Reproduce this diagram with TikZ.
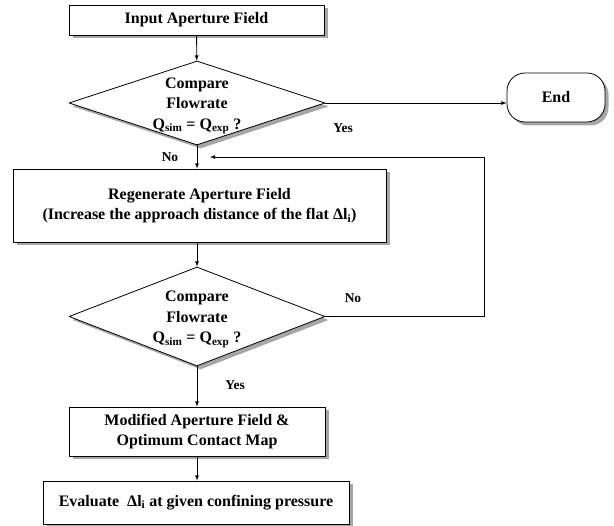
\documentclass[tikz,border=0pt]{standalone}
\usepackage{fontspec}
\setmainfont{Liberation Serif}
\usetikzlibrary{shapes.geometric,shadows}

\begin{document}
\begin{tikzpicture}[x=1pt,y=-1pt,line cap=round,line join=round,
		font=\fontsize{16}{20.5}\selectfont\bfseries,
		box/.style={draw, line width=0.8pt, fill=white, inner sep=0pt, align=center,
			drop shadow={shadow xshift=3.5pt, shadow yshift=-3.5pt, fill=gray!70, opacity=1}},
		decision/.style={box, diamond},
		stopbox/.style={box, rounded corners=18pt},
		dtext/.style={align=center, inner sep=0pt},
		lbl/.style={font=\fontsize{13.5}{16}\selectfont\bfseries, inner sep=0pt},
		arr/.style={-latex, line width=0.8pt}]
	\useasboundingbox (0,0) rectangle (614,526);
	
	\node[box, minimum width=255pt, minimum height=30pt] (input) at (196.5,20) {Input Aperture Field};
	
	\node[decision, minimum width=256pt, minimum height=84pt] (cmp1) at (197,103) {};
	\node[dtext] (cmp1txt) at ([yshift=-3pt]cmp1.center) {Compare\\Flowrate\\Q\textsubscript{sim} = Q\textsubscript{exp} ?};
	
	\node[stopbox, minimum width=98pt, minimum height=49pt] (stop) at (556,97.5) {End};
	
	\node[box, minimum width=373pt, minimum height=73pt] (regen) at (199.5,205.5)
		{Regenerate Aperture Field\\(Increase the approach distance of the flat Δl\textsubscript{i})};
	
	\node[decision, minimum width=256pt, minimum height=99pt] (cmp2) at (197,316.5) {};
	\node[dtext] (cmp2txt) at ([yshift=-3pt]cmp2.center) {Compare\\Flowrate\\Q\textsubscript{sim} = Q\textsubscript{exp} ?};
	
	\node[box, minimum width=256pt, minimum height=49pt] (modmap) at (197,431.5)
		{Modified Aperture Field \&\\Optimum Contact Map};
	\node[box, minimum width=306pt, minimum height=43pt] (eval) at (196,502.5)
		{Evaluate~ Δl\textsubscript{i} at given confining pressure};
	
	\draw[arr] (input) -- (cmp1);
	\draw[arr] (cmp1.east) -- (cmp1.east -| stop.west);
	\node[lbl] (yes1) at (343,128) {Yes};
	
	\draw[arr] (cmp1.south) -- (cmp1.south |- regen.north);
	\node[lbl] (no1) at (170,157) {No};
	
	\draw[arr] (regen.south -| cmp2.north) -- (cmp2.north);
	
	\coordinate (loopin) at (210,157);
	\coordinate (loopturn) at (484,157);
	\draw[arr] (cmp2.east) -| (loopturn) -- (loopin);
	\node[lbl] (no2) at (353,298) {No};
	
	\draw[arr] (cmp2.south) -- (modmap.north);
	\node[lbl] (yes2) at (235,385) {Yes};
	
	\draw[arr] (modmap.south) -- (modmap.south |- eval.north);
\end{tikzpicture}
\end{document}
